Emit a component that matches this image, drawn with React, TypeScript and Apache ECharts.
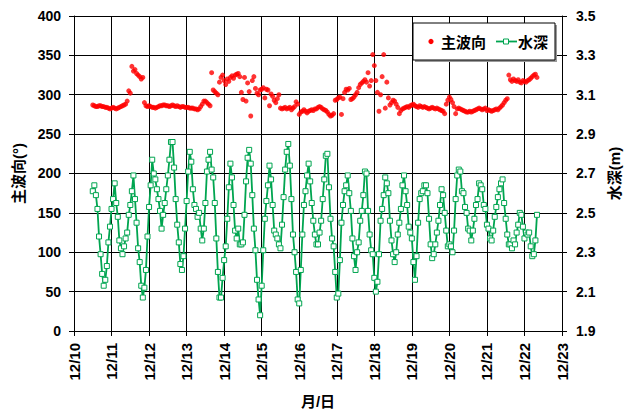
import React, { useEffect, useRef } from "react";
import * as echarts from "echarts";

// Hourly readings, first one at 12/10 12:00
const START_HOUR = 12;
const HOURS_PER_DAY = 24;

const dayLabels = [
  "12/10", "12/11", "12/12", "12/13", "12/14", "12/15", "12/16",
  "12/17", "12/18", "12/19", "12/20", "12/21", "12/22", "12/23",
];

// 主波向 (°)
const waveDir = [
  // 12/10 12h-23h
  287, 286, 285, 285, 286, 286, 285, 285, 284, 284, 283, 282,
  // 12/11
  283, 284, 283, 282, 283, 284, 285, 286, 287, 288, 292, 305, 302,
  336, 330, 332, 327, 325, 323, 320, 322, 290, 286, 285,
  // 12/12
  286, 285, 284, 284, 283, 284, 285, 286, 286, 287, 287, 286,
  286, 285, 286, 287, 286, 285, 286, 285, 284, 285, 285, 284,
  // 12/13
  284, 284, 283, 283, 283, 282, 282, 281, 282, 285, 288, 292,
  292, 290, 288, 286, 328, 306, 304, 302, 300, 316, 322, 325,
  // 12/14
  318, 313, 320, 317, 322, 324, 321, 325, 326, 327, 323, 303,
  294, 322, 292, 315, 304, 273, 318, 323, 308, 302, 300, 306,
  // 12/15
  307, 309, 296, 307, 306, 286, 301, 298, 293, 290, 295, 300,
  283, 282, 283, 284, 282, 283, 284, 281, 283, 285, 291, 288,
  // 12/16
  275, 278, 279, 281, 279, 277, 279, 280, 281, 280, 282, 282,
  284, 285, 284, 282, 281, 280, 278, 275, 273, 274, 276, 293,
  // 12/17
  294, 296, 297, 275, 295, 303, 307, 306, 308, 294, 295, 297,
  300, 303, 309, 313, 315, 317, 319, 316, 328, 311, 318, 351,
  // 12/18
  337, 318, 303, 279, 300, 323, 351, 283, 316, 296, 287, 290,
  293, 292, 288, 284, 276, 280, 282, 283, 284, 285, 284, 286,
  // 12/19
  287, 288, 286, 285, 284, 286, 285, 284, 285, 284, 283, 282,
  283, 284, 283, 282, 283, 282, 281, 280, 279, 276, 288, 293,
  // 12/20
  297, 294, 290, 285, 276, 282, 283, 282, 281, 280, 279, 278,
  278, 279, 278, 279, 280, 281, 282, 283, 282, 281, 282, 283,
  // 12/21
  280, 281, 280, 279, 280, 281, 282, 281, 283, 285, 287, 290,
  293, 295, 325, 319, 317, 320, 318, 317, 319, 316, 315, 318,
  // 12/22 0h-8h
  317, 316, 318, 319, 321, 323, 325, 326, 322,
];

// 水深 (m)
const depth = [
  // 12/10 12h-23h
  2.61, 2.64, 2.59, 2.52, 2.38, 2.29, 2.19, 2.13, 2.16, 2.23, 2.35, 2.43,
  // 12/11
  2.52, 2.57, 2.65, 2.55, 2.48, 2.36, 2.32, 2.29, 2.33, 2.37, 2.40, 2.49, 2.54,
  2.61, 2.69, 2.57, 2.45, 2.32, 2.25, 2.13, 2.07, 2.12, 2.21, 2.38, 2.53,
  // 12/12
  2.64, 2.77, 2.70, 2.67, 2.62, 2.57, 2.51, 2.42, 2.49, 2.55, 2.62, 2.69,
  2.77, 2.86, 2.86, 2.73, 2.57, 2.44, 2.35, 2.24, 2.21, 2.28, 2.42,
  // 12/13
  2.56, 2.71, 2.81, 2.76, 2.62, 2.54, 2.52, 2.48, 2.50, 2.42, 2.36, 2.42,
  2.55, 2.71, 2.77, 2.81, 2.72, 2.68, 2.55, 2.37, 2.20, 2.07, 2.07, 2.17,
  // 12/14
  2.26, 2.33, 2.47, 2.63, 2.75, 2.68, 2.54, 2.41, 2.37, 2.42, 2.34, 2.34,
  2.35, 2.49, 2.66, 2.78, 2.82, 2.75, 2.59, 2.42, 2.31, 2.16, 2.06, 1.98,
  // 12/15
  2.13, 2.31, 2.47, 2.56, 2.64, 2.74, 2.67, 2.54, 2.41, 2.39, 2.37, 2.34, 2.32,
  2.44, 2.58, 2.72, 2.81, 2.85, 2.74, 2.57, 2.39, 2.30, 2.20, 2.06, 2.04,
  // 12/16
  2.21, 2.39, 2.54, 2.61, 2.69, 2.75, 2.66, 2.55, 2.46, 2.39, 2.34, 2.34,
  2.40, 2.46, 2.57, 2.67, 2.79, 2.80, 2.63, 2.47, 2.37, 2.33, 2.20, 2.07,
  // 12/17
  2.09, 2.26, 2.45, 2.54, 2.61, 2.64, 2.69, 2.60, 2.51, 2.37, 2.28, 2.21,
  2.30, 2.35, 2.46, 2.51, 2.59, 2.71, 2.70, 2.51, 2.39, 2.31, 2.29, 2.17,
  // 12/18
  2.10, 2.15, 2.29, 2.46, 2.52, 2.59, 2.68, 2.65, 2.60, 2.46, 2.36, 2.29,
  2.25, 2.30, 2.39, 2.45, 2.52, 2.64, 2.69, 2.61, 2.54, 2.43, 2.40, 2.37,
  // 12/19
  2.25, 2.16, 2.28, 2.45, 2.57, 2.60, 2.61, 2.64, 2.64, 2.60, 2.47, 2.34,
  2.27, 2.29, 2.34, 2.40, 2.46, 2.54, 2.62, 2.59, 2.50, 2.41, 2.33,
  // 12/20
  2.34, 2.33, 2.30, 2.41, 2.57, 2.69, 2.72, 2.71, 2.61, 2.60, 2.53, 2.50,
  2.42, 2.41, 2.36, 2.41, 2.47, 2.54, 2.57, 2.65, 2.64, 2.62, 2.54, 2.52,
  // 12/21
  2.44, 2.42, 2.37, 2.36, 2.41, 2.48, 2.53, 2.58, 2.62, 2.65, 2.67, 2.55,
  2.47, 2.39, 2.34, 2.34, 2.32, 2.36, 2.34, 2.40, 2.44, 2.50, 2.49, 2.43,
  // 12/22 0h-8h
  2.37, 2.40, 2.39, 2.40, 2.33, 2.28, 2.29, 2.36, 2.49,
];

const FONT = "'Liberation Sans', Arial, 'Noto Sans CJK JP', sans-serif";
const GREEN = "#00a550";
const RED = "#ff0000";

export default function App() {
  const ref = useRef<HTMLDivElement>(null);

  useEffect(() => {
    if (!ref.current) return;
    document.body.style.margin = "0";
    const chart = echarts.init(ref.current, null, { renderer: "svg", width: 635, height: 414 });
    const maxHour = (dayLabels.length - 1) * HOURS_PER_DAY;

    chart.setOption({
      animation: false,
      backgroundColor: "#fff",
      grid: { left: 74, right: 73, top: 16, bottom: 75, containLabel: false },
      xAxis: {
        type: "value",
        min: 0,
        max: maxHour,
        interval: HOURS_PER_DAY,
        name: "月/日",
        nameLocation: "middle",
        nameGap: 63,
        nameTextStyle: { fontFamily: FONT, fontWeight: "bold", fontSize: 15, color: "#000" },
        axisLine: { show: true, onZero: false, lineStyle: { color: "#000", width: 1 } },
        axisTick: { show: true, inside: false, length: 5, lineStyle: { color: "#000" } },
        axisLabel: {
          rotate: 90,
          margin: 12,
          fontFamily: FONT,
          fontWeight: "bold",
          fontSize: 15,
          color: "#000",
          formatter: (v: number) => dayLabels[Math.round(v / HOURS_PER_DAY)] ?? "",
        },
        splitLine: { show: true, lineStyle: { color: "#000", width: 1 } },
      },
      yAxis: [
        {
          type: "value",
          min: 0,
          max: 400,
          interval: 50,
          name: "主波向(°)",
          nameLocation: "middle",
          nameRotate: 90,
          nameGap: 48,
          nameTextStyle: { fontFamily: FONT, fontWeight: "bold", fontSize: 15, color: "#000" },
          axisLine: { show: true, lineStyle: { color: "#000", width: 1 } },
          axisTick: { show: true, inside: false, length: 5, lineStyle: { color: "#000" } },
          axisLabel: { margin: 13, fontFamily: FONT, fontWeight: "bold", fontSize: 14, color: "#000" },
          splitLine: { show: true, lineStyle: { color: "#000", width: 1 } },
        },
        {
          type: "value",
          min: 1.9,
          max: 3.5,
          interval: 0.2,
          position: "right",
          name: "水深(m)",
          nameLocation: "middle",
          nameRotate: 90,
          nameGap: 45,
          nameTextStyle: { fontFamily: FONT, fontWeight: "bold", fontSize: 15, color: "#000" },
          axisLine: { show: true, lineStyle: { color: "#000", width: 1 } },
          axisTick: { show: true, inside: false, length: 5, lineStyle: { color: "#000" } },
          axisLabel: {
            margin: 14,
            fontFamily: FONT,
            fontWeight: "bold",
            fontSize: 14,
            color: "#000",
            formatter: (v: number) => v.toFixed(1),
          },
          splitLine: { show: false },
        },
      ],
      series: [
        {
          name: "水深",
          type: "line",
          yAxisIndex: 1,
          data: depth.map((v, i) => [START_HOUR + i, v]),
          symbol: "rect",
          symbolSize: 5,
          showAllSymbol: true,
          lineStyle: { color: GREEN, width: 1.8 },
          itemStyle: { color: "#fff", borderColor: GREEN, borderWidth: 1 },
          z: 3,
        },
        {
          name: "主波向",
          type: "scatter",
          yAxisIndex: 0,
          data: waveDir.map((v, i) => [START_HOUR + i, v]),
          symbol: "circle",
          symbolSize: 5,
          itemStyle: { color: RED },
          z: 4,
        },
      ],
      graphic: [
        {
          type: "rect",
          shape: { x: 415, y: 25, width: 142, height: 37 },
          style: { fill: "#9a9a9a" },
          z: 100,
        },
        {
          type: "rect",
          shape: { x: 413, y: 23, width: 142, height: 37 },
          style: { fill: "#fff", stroke: "#000", lineWidth: 1 },
          z: 101,
        },
        {
          type: "circle",
          shape: { cx: 431, cy: 41.5, r: 2.6 },
          style: { fill: RED },
          z: 102,
        },
        {
          type: "text",
          x: 441,
          y: 42,
          style: {
            text: "主波向",
            font: `bold 15px ${FONT}`,
            fill: "#000",
            verticalAlign: "middle",
            align: "left",
          },
          z: 102,
        },
        {
          type: "line",
          shape: { x1: 496, y1: 41.5, x2: 517, y2: 41.5 },
          style: { stroke: GREEN, lineWidth: 1.8 },
          z: 102,
        },
        {
          type: "rect",
          shape: { x: 503.5, y: 39, width: 5, height: 5 },
          style: { fill: "#fff", stroke: GREEN, lineWidth: 1 },
          z: 103,
        },
        {
          type: "text",
          x: 518,
          y: 42,
          style: {
            text: "水深",
            font: `bold 15px ${FONT}`,
            fill: "#000",
            verticalAlign: "middle",
            align: "left",
          },
          z: 102,
        },
      ],
    });

    return () => chart.dispose();
  }, []);

  return <div ref={ref} style={{ width: 635, height: 414, background: "#fff" }} />;
}
